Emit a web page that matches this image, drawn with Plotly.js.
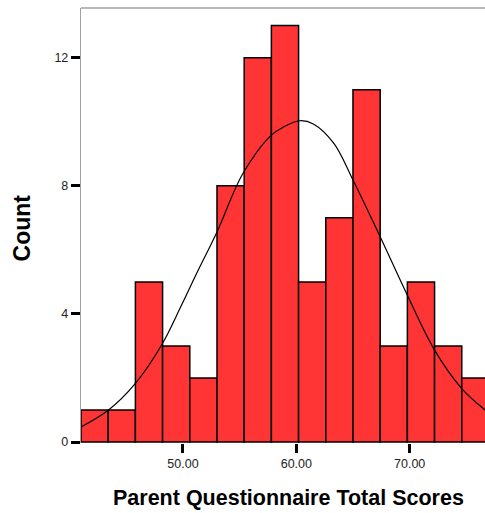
<!DOCTYPE html>
<html>
<head>
<meta charset="utf-8">
<script src="https://cdn.plot.ly/plotly-3.0.1.min.js"></script>
<style>
html,body{margin:0;padding:0;background:#fff;overflow:hidden;}
#chart{width:485px;height:513px;}
</style>
</head>
<body>
<div id="chart"></div>
<script>
// Histogram bins (lower edge of each bin, bin width 2.4) and counts
const binStarts = [41.0, 43.4, 45.8, 48.2, 50.6, 53.0, 55.4, 57.8, 60.2, 62.6, 65.0, 67.4, 69.8, 72.2, 74.6];
const counts = [1, 1, 5, 3, 2, 8, 12, 13, 5, 7, 11, 3, 5, 3, 2];
const binWidth = 2.4;

// Normal curve points
const curveX = [41.0, 43.4, 45.8, 48.1, 49.8, 51.2, 53.0, 55.3, 57.8, 58.9, 60.3, 61.5, 63.3, 65.0, 67.4, 69.8, 72.2, 74.6, 76.7];
const curveY = [0.47, 0.99, 1.83, 3.02, 4.22, 5.26, 6.56, 8.39, 9.58, 9.84, 10.03, 9.93, 9.33, 8.18, 6.41, 4.58, 2.87, 1.67, 0.99];

// Tick values / labels
const xTickVals = [50, 60, 70];
const yTickVals = [0, 4, 8, 12];

const xTitle = 'Parent Questionnaire Total Scores';
const yTitle = 'Count';

const FONT = '"Liberation Sans", Arial, sans-serif';

const traces = [
  {
    type: 'bar',
    x: binStarts,
    y: counts,
    width: binWidth,
    offset: 0,
    marker: {color: '#ff3434', line: {color: '#000000', width: 1.5}},
    hoverinfo: 'skip'
  },
  {
    type: 'scatter',
    mode: 'lines',
    x: curveX,
    y: curveY,
    line: {color: '#000000', width: 1.2, shape: 'spline', smoothing: 1},
    hoverinfo: 'skip'
  }
];

const layout = {
  width: 485,
  height: 513,
  margin: {l: 80.7, r: 0, t: 8, b: 70.3, pad: 0},
  paper_bgcolor: '#ffffff',
  plot_bgcolor: '#ffffff',
  showlegend: false,
  bargap: 0,
  font: {family: FONT, size: 12.5, color: '#222222'},
  xaxis: {
    range: [41, 76.65],
    tickvals: xTickVals,
    ticktext: xTickVals.map(v => v.toFixed(2)),
    ticks: 'outside',
    ticklen: 9,
    tickwidth: 3,
    tickcolor: '#000000',
    showgrid: false,
    zeroline: false,
    showline: false,
    tickfont: {family: FONT, size: 12.5, color: '#222222'}
  },
  yaxis: {
    range: [-0.03, 13.55],
    tickvals: yTickVals,
    ticks: 'outside',
    ticklen: 9,
    tickwidth: 3,
    tickcolor: '#000000',
    showgrid: false,
    zeroline: false,
    showline: true,
    linecolor: '#a0a0a0',
    linewidth: 1.2,
    tickfont: {family: FONT, size: 12.5, color: '#222222'}
  },
  shapes: [
    {type: 'line', xref: 'paper', yref: 'paper', x0: 0, x1: 1, y0: 1, y1: 1,
     line: {color: '#a0a0a0', width: 1.5}}
  ],
  annotations: [
    {text: xTitle, xref: 'paper', yref: 'paper', x: 0.5127, y: -0.1273,
     xanchor: 'center', yanchor: 'middle', showarrow: false,
     font: {family: FONT, size: 21.5, color: '#000000', weight: 'bold'}},
    {text: yTitle, xref: 'paper', yref: 'paper', x: -0.1452, y: 0.494,
     xanchor: 'center', yanchor: 'middle', showarrow: false, textangle: -90,
     font: {family: FONT, size: 23, color: '#000000', weight: 'bold'}}
  ]
};

Plotly.newPlot('chart', traces, layout, {displayModeBar: false, staticPlot: true});
</script>
</body>
</html>
